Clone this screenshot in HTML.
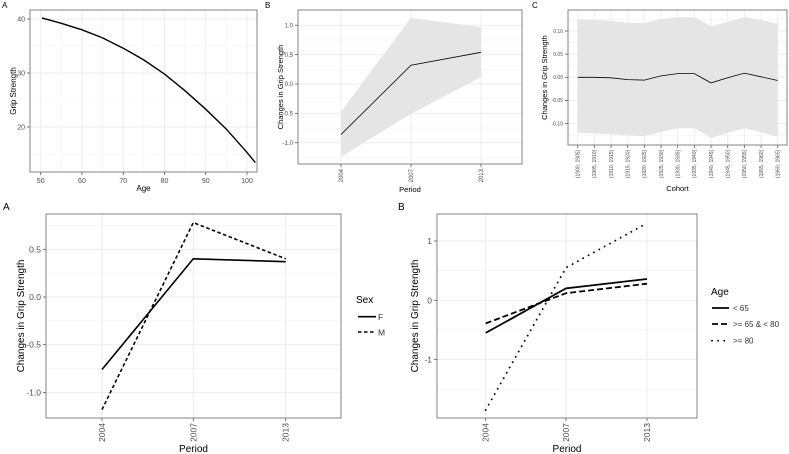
<!DOCTYPE html>
<html><head><meta charset="utf-8">
<style>
html,body{margin:0;padding:0;background:#fff;}
svg{display:block;font-family:"Liberation Sans",sans-serif;}
</style></head>
<body>
<svg id="s" width="789" height="454" viewBox="0 0 789 454"></svg>
<script>
// ---- data ----
const ageX=[50.3,55,60,65,70,75,80,85,90,95,100,102];
const ageY=[40.2,39.2,38,36.5,34.6,32.4,29.8,26.7,23.3,19.6,15.3,13.4];
const periods=["2004","2007","2013"];
const periodEst=[-0.86,0.32,0.54];
const periodLo=[-1.24,-0.51,0.12];
const periodHi=[-0.47,1.13,0.97];
const cohorts=["(1900, 1905]","(1905, 1910]","(1910, 1915]","(1915, 1920]","(1920, 1925]","(1925, 1930]","(1930, 1935]","(1935, 1940]","(1940, 1945]","(1945, 1950]","(1950, 1955]","(1955, 1960]","(1960, 1965]"];
const cohortEst=[0,0,-0.001,-0.005,-0.006,0.003,0.008,0.008,-0.012,-0.001,0.009,0.001,-0.007];
const cohortHi=[0.125,0.124,0.122,0.118,0.117,0.126,0.13,0.13,0.11,0.12,0.13,0.124,0.116];
const cohortLo=[-0.12,-0.121,-0.123,-0.126,-0.127,-0.118,-0.11,-0.11,-0.131,-0.12,-0.11,-0.119,-0.128];
const sexF=[-0.76,0.40,0.37];
const sexM=[-1.18,0.78,0.40];
const ageLt65=[-0.55,0.2,0.36];
const age65to80=[-0.39,0.12,0.28];
const ageGe80=[-1.85,0.55,1.3];
const ageTicks=[50,60,70,80,90,100];
const gripTicks=[20,30,40];
const perTicks=[-1.0,-0.5,0.0,0.5,1.0];
const cohTicks=[-0.10,-0.05,0.00,0.05,0.10];
const sexTicks=[-1.0,-0.5,0.0,0.5];
const ageGrpTicks=[-1,0,1];

const S=document.getElementById('s');
const NS="http://www.w3.org/2000/svg";
function el(tag,attrs,parent,text){
  const e=document.createElementNS(NS,tag);
  for(const k in attrs)e.setAttribute(k,attrs[k]);
  if(text!==undefined)e.textContent=text;
  (parent||S).appendChild(e);return e;
}
function lin(d0,d1,r0,r1){return v=>r0+(v-d0)*(r1-r0)/(d1-d0);}

function panel(o){
  const g=el('g',{});
  
  
  const {x0,x1,y0,y1}=o;
  if(o.yMinor)o.yMinor.forEach(v=>{const y=o.sy(v);const l=el('line',{x1:x0,x2:x1,y1:y,y2:y,stroke:'#f2f2f2','stroke-width':0.6},g);});
  if(o.xMinor)o.xMinor.forEach(v=>{const x=o.sx(v);const l=el('line',{x1:x,x2:x,y1:y0,y2:y1,stroke:'#f2f2f2','stroke-width':0.6},g);});
  o.yTicks.forEach(v=>{const y=o.sy(v);
    const l=el('line',{x1:x0,x2:x1,y1:y,y2:y,stroke:'#ebebeb','stroke-width':0.9},g);
    
    el('line',{x1:x0-3,x2:x0,y1:y,y2:y,stroke:'#555','stroke-width':0.8},g);
    const t=el('text',{x:x0-5,y:y+o.tfs*0.35,'text-anchor':'end','font-size':o.tfs,fill:'#4d4d4d'},g,o.yFmt(v));
    
  });
  o.xTicks.forEach((v,i)=>{const x=o.sx(v);
    const l=el('line',{x1:x,x2:x,y1:y0,y2:y1,stroke:'#ebebeb','stroke-width':0.9},g);
    
    el('line',{x1:x,x2:x,y1:y1,y2:y1+3,stroke:'#555','stroke-width':0.8},g);
    let t;
    if(o.rot){t=el('text',{x:x+o.tfs*0.35,y:y1+5,'text-anchor':'end','font-size':o.tfs,fill:'#4d4d4d',transform:`rotate(-90 ${x+o.tfs*0.35} ${y1+5})`},g,o.xLab[i]);}
    else{t=el('text',{x:x,y:y1+4+o.tfs,'text-anchor':'middle','font-size':o.tfs,fill:'#4d4d4d'},g,o.xLab[i]);}
    
  });
  o.draw(g);
  const b=el('rect',{x:x0,y:y0,width:x1-x0,height:y1-y0,fill:'none',stroke:'#777','stroke-width':0.9},g);
  
  let t=el('text',{x:(x0+x1)/2,y:o.xtY,'text-anchor':'middle','font-size':o.afs,fill:'#000'},g,o.xt);
  
  t=el('text',{x:o.ytX,y:(y0+y1)/2,'text-anchor':'middle','font-size':o.afs,fill:'#000',transform:`rotate(-90 ${o.ytX} ${(y0+y1)/2})`},g,o.yt);
  
  t=el('text',{x:o.tagX,y:o.tagY,'font-size':o.tagFs,fill:'#000'},g,o.tag);
  
  return g;
}
function path(pts){return pts.map((p,i)=>(i?'L':'M')+p[0].toFixed(1)+','+p[1].toFixed(1)).join('');}

// Top A
{const sx=lin(50,100,40.7,247),sy=lin(40,20,19,127);
panel({name:'panel-age',x0:30,x1:257,y0:10,y1:172,sx,sy,yTicks:gripTicks,xTicks:ageTicks,xLab:ageTicks.map(String),
 yMinor:[15,25,35],xMinor:[45,55,65,75,85,95,105].filter(v=>sx(v)>30&&sx(v)<257),
 yFmt:v=>String(v),tfs:7,afs:8,rot:false,xt:'Age',xtY:191,yt:'Grip Strength',ytX:16,tag:'A',tagX:2,tagY:8,tagFs:8,
 draw:g=>{const p=el('path',{d:path(ageX.map((a,i)=>[sx(a),sy(ageY[i])])),fill:'none',stroke:'#000','stroke-width':1.4},g);
  }});}
// Top B
{const sx=i=>[341,411,481][i],sy=lin(0,1,84,25.3);
panel({name:'panel-period',x0:298,x1:522,y0:10,y1:164,sx,sy,yTicks:perTicks,xTicks:[0,1,2],xLab:periods,
 yMinor:[-1.25,-0.75,-0.25,0.25,0.75],yFmt:v=>v.toFixed(1),tfs:6,afs:7.5,rot:true,xt:'Period',xtY:192,yt:'Changes in Grip Strength',ytX:283,tag:'B',tagX:265,tagY:8,tagFs:8,
 draw:g=>{const up=periodHi.map((v,i)=>[sx(i),sy(v)]),lo=periodLo.map((v,i)=>[sx(i),sy(v)]).reverse();
  const r=el('path',{d:path(up.concat(lo))+'Z',fill:'#e5e5e5',stroke:'none'},g);
  const p=el('path',{d:path(periodEst.map((v,i)=>[sx(i),sy(v)])),fill:'none',stroke:'#000','stroke-width':0.8},g);
  }});}
// Top C
{const sx=i=>577.7+i*16.667,sy=lin(0,0.1,77.3,31);
panel({name:'panel-cohort',x0:568,x1:787,y0:10,y1:145,sx,sy,yTicks:cohTicks,xTicks:cohorts.map((c,i)=>i),xLab:cohorts,
 yMinor:[-0.125,-0.075,-0.025,0.025,0.075,0.125],yFmt:v=>v.toFixed(2),tfs:5,afs:7.5,rot:true,xt:'Cohort',xtY:191,yt:'Changes in Grip Strength',ytX:547,tag:'C',tagX:532,tagY:8,tagFs:8,
 draw:g=>{const up=cohortHi.map((v,i)=>[sx(i),sy(v)]),lo=cohortLo.map((v,i)=>[sx(i),sy(v)]).reverse();
  const r=el('path',{d:path(up.concat(lo))+'Z',fill:'#e5e5e5',stroke:'none'},g);
  const p=el('path',{d:path(cohortEst.map((v,i)=>[sx(i),sy(v)])),fill:'none',stroke:'#000','stroke-width':0.8},g);
  }});}
// Bottom A
{const sx=i=>[102,193.3,285.7][i],sy=lin(0,0.5,297,249.3);
panel({name:'panel-period-by-sex',x0:46,x1:341,y0:214,y1:418,sx,sy,yTicks:sexTicks,xTicks:[0,1,2],xLab:periods,
 yMinor:[-0.75,-0.25,0.25,0.75],yFmt:v=>v.toFixed(1),tfs:8.5,afs:10,rot:true,xt:'Period',xtY:452,yt:'Changes in Grip Strength',ytX:24,tag:'A',tagX:3,tagY:210,tagFs:10,
 draw:g=>{[[sexF,'','sex-f-line'],[sexM,'3.5,2.5','sex-m-line']].forEach(([d,da,n])=>{
  const p=el('path',{d:path(d.map((v,i)=>[sx(i),sy(v)])),fill:'none',stroke:'#000','stroke-width':1.6,'stroke-dasharray':da},g);
  });}});
 const lg=el('g',{});
 el('text',{x:356,y:303,'font-size':10},lg,'Sex');
 el('line',{x1:358,x2:376,y1:316.7,y2:316.7,stroke:'#000','stroke-width':1.6},lg);
 el('text',{x:378,y:320,'font-size':8.5,fill:'#333'},lg,'F');
 el('line',{x1:358,x2:376,y1:332,y2:332,stroke:'#000','stroke-width':1.6,'stroke-dasharray':'3.5,2.5'},lg);
 el('text',{x:378,y:335.5,'font-size':8.5,fill:'#333'},lg,'M');}
// Bottom B
{const sx=i=>[485.7,566,647][i],sy=lin(0,1,300.3,241);
panel({name:'panel-period-by-age',x0:437,x1:697,y0:214,y1:418,sx,sy,yTicks:ageGrpTicks,xTicks:[0,1,2],xLab:periods,
 yMinor:[-1.5,-0.5,0.5],yFmt:v=>String(v),tfs:8.5,afs:10,rot:true,xt:'Period',xtY:452,yt:'Changes in Grip Strength',ytX:418,tag:'B',tagX:398,tagY:210,tagFs:10,
 draw:g=>{[[ageLt65,'','age-lt65-line','butt'],[age65to80,'6,3','age-65-80-line','butt'],[ageGe80,'0.1,6','age-ge80-line','round']].forEach(([d,da,n,cap])=>{
  const p=el('path',{d:path(d.map((v,i)=>[sx(i),sy(v)])),fill:'none',stroke:'#000','stroke-width':1.8,'stroke-dasharray':da,'stroke-linecap':cap},g);
  });}});
 const lg=el('g',{});
 el('text',{x:711,y:295,'font-size':10},lg,'Age');
 [['','< 65',308,'butt'],['6,3','>= 65 & < 80',324,'butt'],['0.1,6','>= 80',340.7,'round']].forEach(([da,t,y,cap])=>{
  el('line',{x1:712,x2:729,y1:y,y2:y,stroke:'#000','stroke-width':1.8,'stroke-dasharray':da,'stroke-linecap':cap},lg);
  el('text',{x:733,y:y+3,'font-size':8,fill:'#333'},lg,t);});}
</script>
</body></html>
